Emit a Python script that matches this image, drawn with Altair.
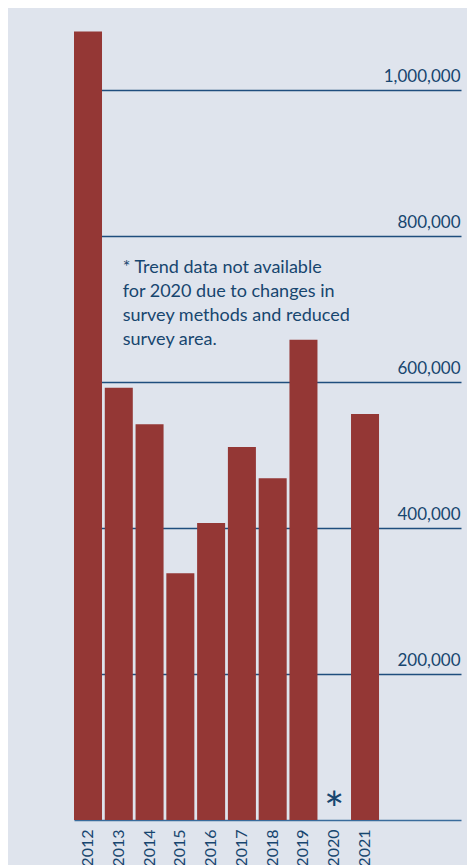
import altair as alt
import pandas as pd

years = ["2012", "2013", "2014", "2015", "2016", "2017", "2018", "2019", "2020", "2021"]
counts = [1080000, 592000, 542000, 338000, 407000, 511000, 468000, 658000, None, 556000]
y_ticks = [0, 200000, 400000, 600000, 800000, 1000000]
note_lines = [
    "* Trend data not available",
    "for 2020 due to changes in",
    "survey methods and reduced",
    "survey area.",
]
missing_year = "2020"
missing_mark = "*"
spacer_slots = [" ", "  "]  # empty slots to the right of 2021 (no data, no label)

bars_df = pd.DataFrame({
    "year": [y for y, c in zip(years, counts) if c is not None],
    "count": [c for c in counts if c is not None],
})
star_df = pd.DataFrame({"year": [missing_year], "count": [0], "label": [missing_mark]})
note_df = pd.DataFrame({"text": ["\n".join(note_lines)]})

NAVY = "#17466f"
BG = "#dfe4ed"
BAR = "#943735"

x_scale = alt.Scale(domain=years + spacer_slots, paddingInner=0.09, paddingOuter=0.3316, align=0)
y_scale = alt.Scale(domain=[0, 1100000], nice=False)

bars = alt.Chart(bars_df).mark_bar(color=BAR).encode(
    x=alt.X(
        "year:N",
        scale=x_scale,
        axis=alt.Axis(
            title=None, labelAngle=270, labelFontSize=16, labelFont="Lato",
            labelColor=NAVY, labelPadding=9, ticks=False, domain=False, grid=False,
            labelAlign="right", labelBaseline="middle",
        ),
    ),
    y=alt.Y(
        "count:Q",
        scale=y_scale,
        axis=alt.Axis(
            orient="right", title=None, values=y_ticks, format=",.0f",
            labelExpr="datum.value == 0 ? '' : datum.label",
            ticks=False, domain=False, grid=True,
            gridColor=alt.condition("datum.value === 0", alt.value("#3a6c9c"), alt.value("#1f4e7e")),
            gridWidth=1.3,
            labelAlign="right", labelPadding=-1, labelOffset=-9,
            labelBaseline="alphabetic", labelFontSize=17, labelFont="Lato",
            labelColor=NAVY,
        ),
    ),
)

star = alt.Chart(star_df).mark_text(
    fontSize=48, font="Lato", color=NAVY, baseline="alphabetic", dy=7
).encode(
    x=alt.X("year:N", scale=x_scale),
    y=alt.Y("count:Q", scale=y_scale),
    text="label:N",
)

note = alt.Chart(note_df).mark_text(
    align="left", baseline="alphabetic", lineBreak="\n", lineHeight=24,
    fontSize=18, font="Lato", color=NAVY,
).encode(
    x=alt.value(48.7),
    y=alt.value(255.7),
    text="text:N",
)

chart = alt.layer(bars, star, note).properties(
    width=387,
    height=803,
    padding={"left": 66, "right": 6, "top": 9, "bottom": 45},
    autosize=alt.AutoSizeParams(type="none"),
    background=BG,
).configure_view(stroke=None)

chart.save("out.html", embed_options={"renderer": "svg", "actions": False})
